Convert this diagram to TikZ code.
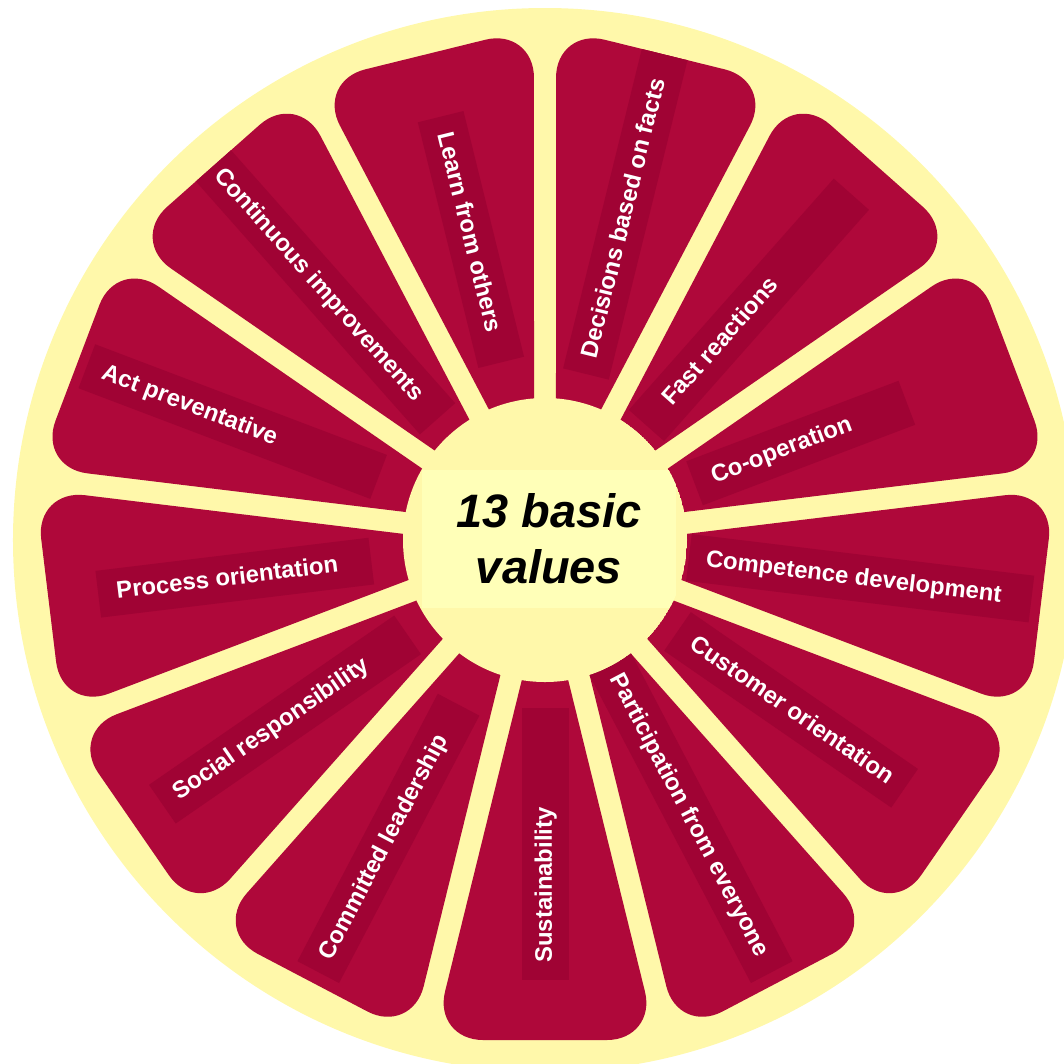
\documentclass[tikz,border=0pt]{standalone}
\usepackage{fontspec}
\setmainfont{Liberation Sans}
\definecolor{rind}{RGB}{255,248,170}
\definecolor{pulp}{RGB}{175,8,58}
\definecolor{pulpdark}{RGB}{160,3,52}
\definecolor{core}{RGB}{255,255,184}
\tikzset{
	valtext/.style={text=white,font=\fontsize{13.6}{16}\selectfont\bfseries,inner sep=0pt,text height=1.5ex,text depth=0pt},
	coretext/.style={fill=core,font=\fontsize{26.7}{31.9}\selectfont\bfseries\itshape,align=center,minimum width=5.1cm,minimum height=2.76cm,inner sep=0pt}
}
\begin{document}
\begin{tikzpicture}[x=0.02cm,y=0.02cm]
				\path
				(0,0) coordinate (O)
				;
				\clip (-545,-523) rectangle (519,540)
				;
				\fill[rind] (O) circle (532)
				;
				\foreach \ang/\bin/\bout in {270/168/440, 297.69/138/488, 325.38/161/437, 353.08/145/490, 20.77/160/387, 48.46/153/462, 76.15/171/500, 103.85/183/436, 131.54/162/510, 159.23/178/490, 186.92/175/450, 214.62/167/465, 242.31/186/488}
				{
				\begin{scope}[rotate=\ang]
				\clip[rounded corners=10mm] (45.9,0) -- (500,111.9) -- (500,-111.9) -- cycle;
				\fill[pulp] (0,-130) rectangle (520,130);
				\fill[pulpdark] (\bin,-23.5) rectangle (\bout,23.5);
				\end{scope}
				}
				\begin{scope}
				\clip (O) circle (142);
				\fill[rind] (O) circle (142);
				\node[coretext] (core) at (4,1) {13 basic\\values};
				\end{scope}
				\foreach \ang/\rot/\rad/\nm/\txt in {270/90/345/sust/Sustainability, 297.69/-62.31/311/part/Participation from everyone, 325.38/-34.62/300/cust/Customer orientation, 353.08/-6.92/311/comp/Competence development, 20.77/20.77/253/coop/Co-operation, 48.46/48.46/265/fast/Fast reactions, 76.15/76.15/331/deci/Decisions based on facts, 103.85/-76.15/317/lear/Learn from others, 131.54/-48.46/341/cont/Continuous improvements, 159.23/-20.77/380/prev/Act preventative, 186.92/6.92/320/proc/Process orientation, 214.62/34.62/333/soci/Social responsibility, 242.31/62.31/347/lead/Committed leadership}
				\node[valtext,rotate=\rot] (\nm) at (\ang:\rad) {\txt}
				;
\end{tikzpicture}
\end{document}
